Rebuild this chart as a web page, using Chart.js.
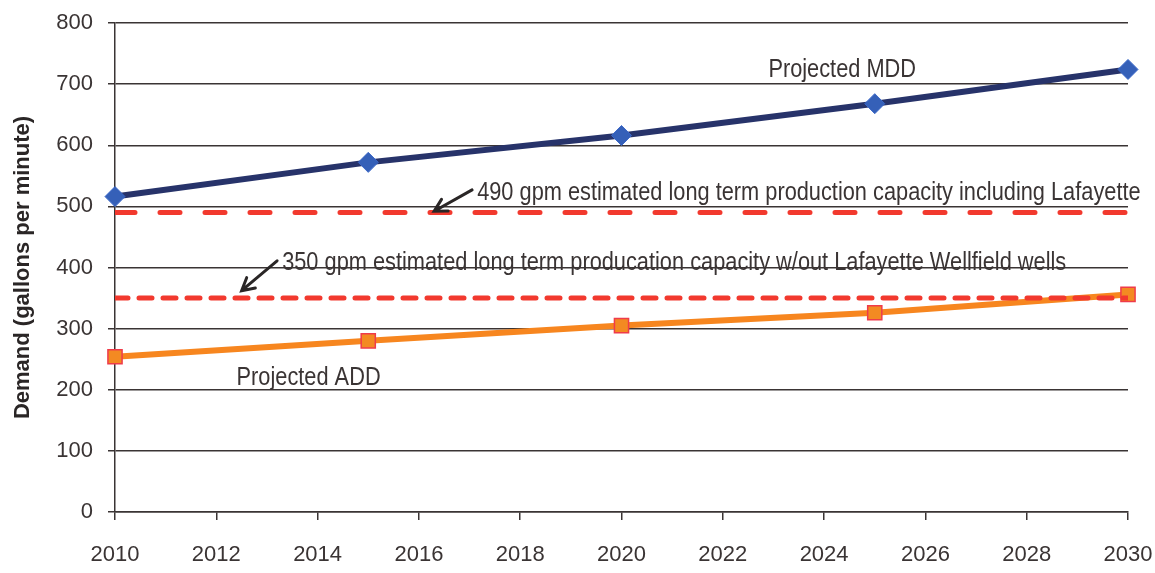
<!DOCTYPE html>
<html>
<head>
<meta charset="utf-8">
<script src="https://cdn.jsdelivr.net/npm/chart.js@4"></script>
<style>
  html, body { margin: 0; padding: 0; background: #fff; }
  #wrap { width: 1155px; height: 573px; position: relative; }
</style>
</head>
<body>
<div id="wrap"><canvas id="demandChart"></canvas></div>
<script>
// projected demand, gallons per minute
const years = [2010, 2015, 2020, 2025, 2030];
const mddValues = [516, 572, 616, 668, 724];
const addValues = [254, 280, 305, 326, 356];

// long term capacity lines
const capacityYears = [2010, 2030];
const capacityWith = [490, 490];
const capacityWithout = [350, 350];

const yTicks = [0, 100, 200, 300, 400, 500, 600, 700, 800];

const ink = "#3a3434";
const font = "'Liberation Sans', Arial, sans-serif";

function pts(xs, ys) {
  return xs.map((x, i) => ({ x: x, y: ys[i] }));
}

// text labels and arrows drawn on top of the plot
const notes = [
  { text: "Projected MDD", x: 2022.9, y: 723 },
  { text: "490 gpm estimated long term production capacity including Lafayette", x: 2017.15, y: 522 },
  { text: "350 gpm estimated long term producation capacity w/out Lafayette Wellfield wells", x: 2013.3, y: 407 },
  { text: "Projected ADD", x: 2012.4, y: 219 }
];
const arrows = [
  { from: [2017.05, 527], to: [2016.3, 492] },
  { from: [2013.2, 411], to: [2012.5, 362] }
];

const annotate = {
  id: "annotate",
  afterDatasetsDraw(chart) {
    const { ctx, scales: { x, y } } = chart;
    ctx.save();
    ctx.fillStyle = ink;
    ctx.font = "22px " + font;
    ctx.textBaseline = "middle";
    ctx.textAlign = "left";
    notes.forEach(n => {
      const px = x.getPixelForValue(n.x), py = y.getPixelForValue(n.y);
      ctx.save();
      ctx.translate(px, py);
      ctx.scale(0.99, 1.15);
      ctx.fillText(n.text, 0, 0);
      ctx.restore();
    });
    ctx.strokeStyle = "#2a2626";
    ctx.lineWidth = 3;
    ctx.lineCap = "round";
    arrows.forEach(a => {
      const x1 = x.getPixelForValue(a.from[0]), y1 = y.getPixelForValue(a.from[1]);
      const x2 = x.getPixelForValue(a.to[0]), y2 = y.getPixelForValue(a.to[1]);
      const ang = Math.atan2(y2 - y1, x2 - x1);
      ctx.beginPath();
      ctx.moveTo(x1, y1);
      ctx.lineTo(x2, y2);
      ctx.moveTo(x2 - 14 * Math.cos(ang - 0.5), y2 - 14 * Math.sin(ang - 0.5));
      ctx.lineTo(x2, y2);
      ctx.lineTo(x2 - 14 * Math.cos(ang + 0.5), y2 - 14 * Math.sin(ang + 0.5));
      ctx.stroke();
    });
    ctx.restore();
  }
};

const ctx = document.getElementById("demandChart").getContext("2d");
const demandChart = new Chart(ctx, {
  type: "line",
  data: {
    datasets: [
      {
        label: "490 gpm",
        data: pts(capacityYears, capacityWith),
        borderColor: "#f2392e",
        borderWidth: 5,
        borderDash: [20, 25],
        borderCapStyle: "round",
        pointRadius: 0,
        fill: false
      },
      {
        label: "350 gpm",
        data: pts(capacityYears, capacityWithout),
        borderColor: "#f2392e",
        borderWidth: 5,
        borderDash: [13, 11],
        borderCapStyle: "round",
        pointRadius: 0,
        fill: false
      },
      {
        label: "Projected MDD",
        data: pts(years, mddValues),
        borderColor: "#27336a",
        borderWidth: 6,
        pointStyle: "rectRot",
        pointRadius: 10,
        pointBackgroundColor: "#3560b8",
        pointBorderColor: "#3a67c8",
        pointBorderWidth: 1,
        clip: false,
        fill: false
      },
      {
        label: "Projected ADD",
        data: pts(years, addValues),
        borderColor: "#f7861f",
        borderWidth: 6,
        pointStyle: "rect",
        pointRadius: 10,
        pointBackgroundColor: "#f38a22",
        pointBorderColor: "#ef3b4a",
        pointBorderWidth: 1.5,
        clip: false,
        fill: false
      }
    ]
  },
  options: {
    responsive: true,
    maintainAspectRatio: false,
    animation: false,
    layout: { padding: { top: 23, right: 27, left: 0, bottom: 0 } },
    plugins: {
      legend: { display: false },
      tooltip: { enabled: false }
    },
    scales: {
      x: {
        type: "linear",
        min: 2010,
        max: 2030,
        afterFit: s => { s.height = 61; s.paddingLeft = 0; s.paddingRight = 0; },
        ticks: {
          stepSize: 2,
          color: ink,
          padding: 22,
          font: { family: font, size: 22 },
          callback: v => String(v)
        },
        grid: { drawOnChartArea: false, drawTicks: true, tickLength: 8, color: ink, lineWidth: 1.5 },
        border: { display: true, color: ink, width: 1.5 }
      },
      y: {
        min: 0,
        max: 800,
        afterFit: s => { s.width = 115; s.paddingTop = 0; s.paddingBottom = 0; },
        afterBuildTicks: s => { s.ticks = yTicks.map(v => ({ value: v })); },
        ticks: {
          color: ink,
          padding: 15,
          font: { family: font, size: 22 }
        },
        grid: { color: ink, lineWidth: 1.5, tickLength: 7 },
        border: { display: true, color: ink, width: 1.5 },
        title: {
          display: true,
          text: "Demand (gallons per minute)",
          color: "#2a2626",
          font: { family: font, size: 22, weight: "bold" },
          padding: { top: 10, bottom: 0 }
        }
      }
    }
  },
  plugins: [annotate]
});
</script>
</body>
</html>
